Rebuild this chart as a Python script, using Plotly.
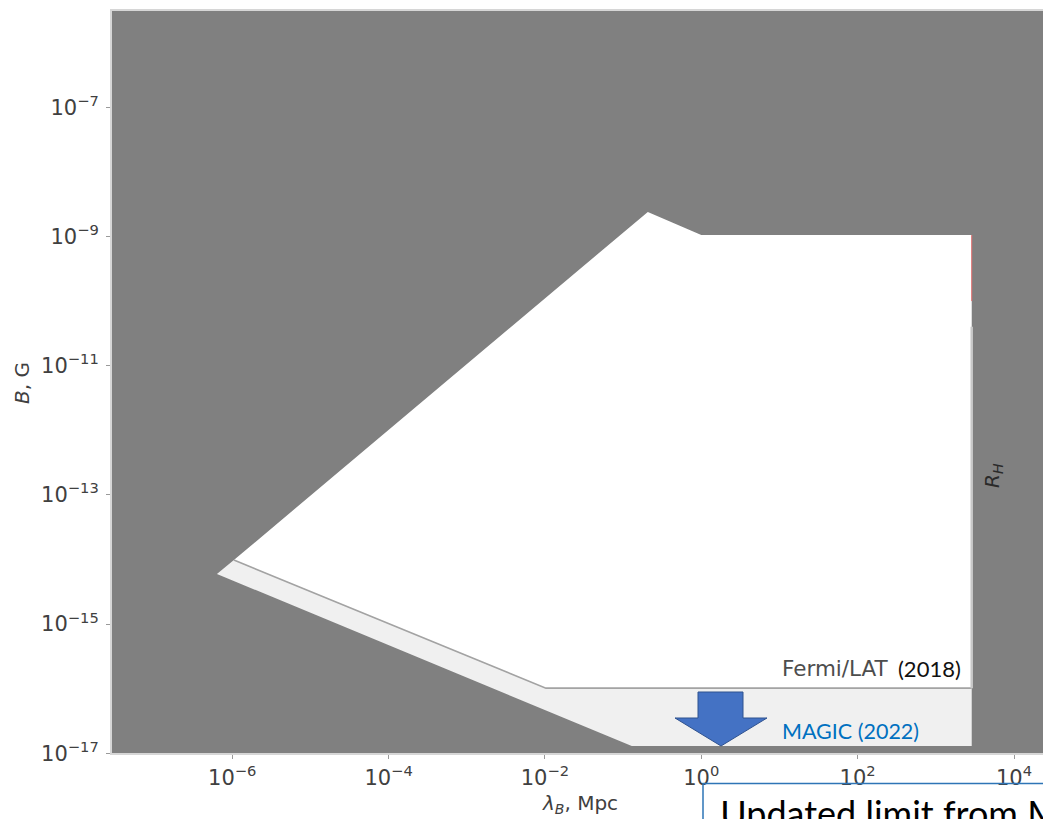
import plotly.graph_objects as go

# ---- data: magnetic field B [G] vs coherence length lambda_B [Mpc] ----
# region excluded by Fermi/LAT (2018)
fermi_lam = [1.05e-6, 0.207, 1.0, 2880, 2880, 0.0103, 1.05e-6]
fermi_B = [9.8e-15, 2.4e-9, 1.05e-9, 1.05e-9, 1.02e-16, 1.02e-16, 9.8e-15]

# additional band excluded by MAGIC (2022)
magic_lam = [6.37e-7, 1.05e-6, 0.0103, 2880, 2880, 0.129, 6.37e-7]
magic_B = [5.97e-15, 9.8e-15, 1.02e-16, 1.02e-16, 1.3e-17, 1.3e-17, 5.97e-15]

# lower boundary of the Fermi/LAT limit
edge_lam = [1.05e-6, 0.0103, 2880]
edge_B = [9.8e-15, 1.02e-16, 1.02e-16]

# Hubble-radius cut (partially visible)
rh_lam = [2880, 2880]
rh_B = [1.05e-9, 1.0e-10]
rh_shadow_B = [4.0e-11, 1.02e-16]

x_tickvals = [1e-6, 1e-4, 1e-2, 1e0, 1e2, 1e4]
x_ticktext = ["10<sup>−6</sup>", "10<sup>−4</sup>", "10<sup>−2</sup>",
              "10<sup>0</sup>", "10<sup>2</sup>", "10<sup>4</sup>"]
y_tickvals = [1e-17, 1e-15, 1e-13, 1e-11, 1e-9, 1e-7]
y_ticktext = ["10<sup>−17</sup>", "10<sup>−15</sup>", "10<sup>−13</sup>",
              "10<sup>−11</sup>", "10<sup>−9</sup>", "10<sup>−7</sup>"]

callout_text = "Updated limit from MAGIC"

W, H = 1043, 819


def px(x):
    return x / W


def py(y):
    return 1 - y / H


mpl_font = "DejaVu Sans"
slide_font = "Lato, 'Open Sans', sans-serif"
tick_color = "#404040"

fig = go.Figure()

fig.add_trace(go.Scatter(x=magic_lam, y=magic_B, mode="lines", fill="toself",
                         fillcolor="#f0f0f0", line=dict(width=0),
                         hoverinfo="skip"))
fig.add_trace(go.Scatter(x=fermi_lam, y=fermi_B, mode="lines", fill="toself",
                         fillcolor="#ffffff", line=dict(width=0),
                         hoverinfo="skip"))
fig.add_trace(go.Scatter(x=edge_lam, y=edge_B, mode="lines",
                         line=dict(color="#a3a3a3", width=1.6),
                         hoverinfo="skip"))
fig.add_trace(go.Scatter(x=rh_lam, y=rh_B, mode="lines",
                         line=dict(color="#e26a6a", width=1),
                         hoverinfo="skip"))
fig.add_trace(go.Scatter(x=rh_lam, y=rh_shadow_B, mode="lines",
                         line=dict(color="#c8c8c8", width=2.5),
                         hoverinfo="skip"))

# callout text, clipped to its own box at the bottom edge of the page
fig.add_trace(go.Scatter(x=[0.051], y=[0.03], mode="text",
                         text=[callout_text], textposition="middle right",
                         textfont=dict(family=slide_font, size=36,
                                       color="#000000"),
                         cliponaxis=True, hoverinfo="skip",
                         xaxis="x2", yaxis="y2"))

fig.update_layout(
    width=W, height=H,
    margin=dict(l=0, r=0, t=0, b=0, autoexpand=False),
    paper_bgcolor="white",
    plot_bgcolor="rgba(0,0,0,0)",
    showlegend=False,
    hovermode=False,
    xaxis=dict(
        type="log", range=[-7.538, 4.371], domain=[112 / W, 1],
        tickmode="array", tickvals=x_tickvals, ticktext=x_ticktext,
        ticks="outside", ticklen=4, tickcolor="#9a9a9a",
        tickfont=dict(family=mpl_font, size=21, color=tick_color),
        showgrid=False, zeroline=False,
        showline=True, linecolor="#d6d6d6", linewidth=2, mirror=True,
    ),
    yaxis=dict(
        type="log", range=[-17, -5.51], domain=[py(753.3), py(11)],
        tickmode="array", tickvals=y_tickvals, ticktext=y_ticktext,
        ticks="outside", ticklen=4, tickcolor="#9a9a9a",
        ticklabelstandoff=3,
        tickfont=dict(family=mpl_font, size=21, color=tick_color),
        showgrid=False, zeroline=False,
        showline=True, linecolor="#d6d6d6", linewidth=2, mirror=True,
    ),
    xaxis2=dict(domain=[px(703), 1], range=[0, 1], visible=False,
                fixedrange=True),
    yaxis2=dict(domain=[0, py(783)], range=[0, 1], visible=False,
                fixedrange=True),
)

# grey background of the parameter plane
fig.add_shape(type="rect", xref="x domain", yref="y domain",
              x0=0, x1=1, y0=0, y1=1, layer="below",
              fillcolor="#808080", line=dict(width=0))

# axis titles (as in the original matplotlib figure)
fig.add_annotation(x=px(22), y=py(383), xref="paper", yref="paper",
                   xanchor="center", yanchor="middle",
                   text="<i>B</i>, G", textangle=-90, showarrow=False,
                   font=dict(family=mpl_font, size=20, color=tick_color))
fig.add_annotation(x=px(580), y=py(804), xref="paper", yref="paper",
                   xanchor="center", yanchor="middle",
                   text="<i>λ</i><sub><i>B</i></sub>, Mpc", showarrow=False,
                   font=dict(family=mpl_font, size=20, color=tick_color))
fig.add_annotation(x=px(993), y=py(476), xref="paper", yref="paper",
                   xanchor="center", yanchor="middle",
                   text="<i>R</i><sub><i>H</i></sub>", textangle=-90,
                   showarrow=False,
                   font=dict(family=mpl_font, size=20, color="#2a2a2a"))

# limit labels
fig.add_annotation(x=px(780), y=py(668), xref="paper", yref="paper",
                   xanchor="left", yanchor="middle",
                   text="Fermi/LAT", showarrow=False,
                   font=dict(family=mpl_font, size=21.5, color="#4d4d4d"))
fig.add_annotation(x=px(896), y=py(668), xref="paper", yref="paper",
                   xanchor="left", yanchor="middle",
                   text="(2018)", showarrow=False,
                   font=dict(family=slide_font, size=22, color="#111111"))
fig.add_annotation(x=px(780), y=py(731), xref="paper", yref="paper",
                   xanchor="left", yanchor="middle",
                   text="MAGIC (2022)", showarrow=False,
                   font=dict(family=slide_font, size=21.5, color="#0070c0"))

# downward arrow marking the improved limit
arrow_path = ("M {a},{b} L {c},{b} L {c},{d} L {e},{d} L {f},{g} "
              "L {h},{d} L {a},{d} Z").format(
    a=px(698), b=py(692), c=px(743), d=py(718), e=px(767),
    f=px(721), g=py(746), h=px(675))
fig.add_shape(type="path", xref="paper", yref="paper", path=arrow_path,
              fillcolor="#4472c4", line=dict(color="#2f528f", width=1))

# callout box frame (top and left edges visible)
fig.add_shape(type="path", xref="paper", yref="paper",
              path="M {l},0 L {l},{t} L 1,{t}".format(l=px(703), t=py(783.5)),
              line=dict(color="#2e75b6", width=1.5))

fig.write_html("out.html")
